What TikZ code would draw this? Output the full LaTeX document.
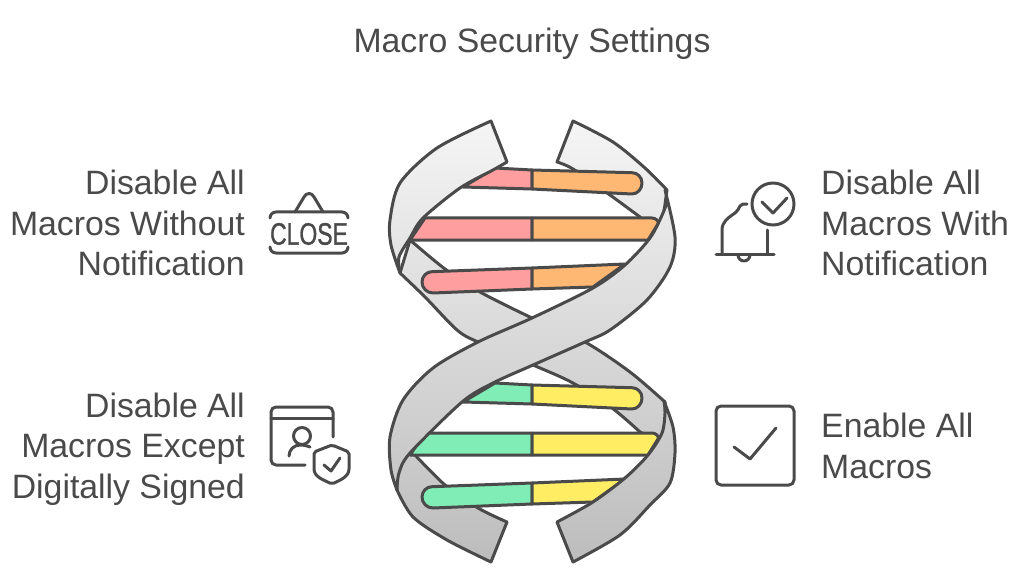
\documentclass[tikz,border=0pt]{standalone}
\usepackage{fontspec}
\setmainfont{Liberation Sans}
\newfontfamily\closefont[FakeBold=1.2]{Liberation Sans}
\definecolor{inkgray}{HTML}{4A4A4A}
\definecolor{rungred}{HTML}{FF9E9E}
\definecolor{rungorange}{HTML}{FFB774}
\definecolor{runggreen}{HTML}{80ECB6}
\definecolor{rungyellow}{HTML}{FFEE63}
\tikzset{
  ribbonline/.style={draw=inkgray,line width=3pt,line join=round},
  iconline/.style={draw=inkgray,line width=3pt,line cap=round,line join=round},
  labeltext/.style={text=inkgray,font=\fontsize{33.8}{40.5}\selectfont,inner sep=0pt},
}
% one band of the helix, shaded over the height of the whole helix
\newcommand{\ribbonpath}[1]{
  \begin{scope}
    \clip #1;
    \fill[top color=white!96!black,middle color=white!91!black,bottom color=white!74!black](380,121)rectangle(690,562);
  \end{scope}
  \draw[ribbonline] #1;
}
\begin{document}
\begin{tikzpicture}[x=1pt,y=-1pt]
\useasboundingbox(0,0)rectangle(1024,585);
\node[labeltext](titlelabel)at(532,43.5){Macro Security Settings};
% back bands
\ribbonpath{plot[smooth]coordinates{(573,121)(613,142)(645,168)(667,190)}--(660,240)--plot[smooth]coordinates{(640,217)(610,195)(573,169)(557,162)}--cycle}
\ribbonpath{plot[smooth]coordinates{(410,240)(445,269)(480,292)(532,318)(585,342)(630,372)(665,402)}--(668,445)--plot[smooth]coordinates{(640,432)(612,408)(573,383)(533,365)(478,342)(457,330)(425,297)(400,273)}--cycle}
\ribbonpath{plot[smooth]coordinates{(491,562)(447,540)(413,517)(397,490)}--(395,445)--plot[smooth]coordinates{(415,455)(445,485)(478,508)(507,522)}--cycle}
% rungs
\foreach \rungy/\leftcol/\rightcol in {0/rungred/rungorange,215/runggreen/rungyellow}{
\begin{scope}[shift={(0,\rungy)}]
\draw[ribbonline,fill=\leftcol](532,170)--(495,168)--(463,187)--(532,189)--cycle;
\draw[ribbonline,fill=\rightcol](532,170)--(632,172.7)to[out=0,in=90](642,183)to[out=-90,in=0](632,194)--(532,189)--cycle;
\draw[ribbonline,fill=\leftcol](532,218)--(425,218)--(410,240)--(532,240)--cycle;
\draw[ribbonline,fill=\rightcol](532,218)--(652,218)to[out=0,in=60](658,224)--(648,240)--(532,240)--cycle;
\draw[ribbonline,fill=\leftcol](532,268)--(432,271.7)to[out=180,in=90](422,282)to[out=-90,in=180](433,293)--(532,289)--cycle;
\draw[ribbonline,fill=\rightcol](532,268)--(625,264)--(593,287)--(532,289)--cycle;
\end{scope}
}
% front bands
\ribbonpath{plot[smooth]coordinates{(491,121)(437,148)(400,183)(390,220)(391,245)(400,273)}--plot[smooth]coordinates{(400,273)(399,257)(410,238)(423,218)(460,188)(493,170)(507,162)}--cycle}
\ribbonpath{plot[smooth]coordinates{(665,190)(667,200)(663,213)(650,238)(625,265)(593,288)(532,318)(478,342)(433,368)(403,400)(390,437)(391,470)(397,490)}--plot[smooth]coordinates{(397,490)(399,473)(410,453)(462,402)(493,383)(533,365)(585,342)(610,330)(647,300)(670,267)(675,237)(665,190)}--cycle}
\ribbonpath{plot[smooth]coordinates{(664,401)(673,427)(675,453)(670,483)(650,505)(620,535)(573,562)}--(557,522)--plot[smooth]coordinates{(557,522)(593,502)(625,478)(648,455)(662,433)(665,413)(664,401)}--cycle}
% left labels
\node[labeltext,align=right,anchor=east](closedlabel)at(245,223){Disable All\\Macros Without\\Notification};
\node[labeltext,align=right,anchor=east](signedlabel)at(245,449){Disable All\\Macros Except\\Digitally Signed};
% right labels
\node[labeltext,align=left,anchor=west](notifylabel)at(821,223){Disable All\\Macros With\\Notification};
\node[labeltext,align=left,anchor=west](enablelabel)at(821,446){Enable All\\Macros};
% close sign
\draw[iconline,rounded corners=6pt](270,218)--(270,212)--(348,212)--(348,218);
\draw[iconline,rounded corners=6pt](270,247)--(270,253)--(348,253)--(348,247);
\draw[iconline](295,212)--(304,197)to[out=60,in=180](309,193.5)to[out=0,in=120](314,197)--(323,212);
\node[text=inkgray,inner sep=0pt,font=\closefont\fontsize{31}{31}\selectfont,xscale=.74](closeword)at(309,234){CLOSE};
% signed profile
\draw[iconline,rounded corners=5pt](305,465)--(271,465)--(271,407)--(333,407)--(333,437);
\draw[iconline](271,418)--(333,418);
\draw[iconline](302,436)circle(8.5);
\draw[iconline](289,456)to[out=90,in=180](300,445)to[out=0,in=160](310,447);
\draw[iconline,rounded corners=2pt](332,445)--(314,452)--(314,467)to[out=-90,in=155](332,484)to[out=25,in=-90](349,467)--(349,452)--cycle;
\draw[iconline](324,465)--(331,471)--(340,458);
% bell with tick
\draw[iconline](773,204)circle(21);
\draw[iconline](762,202)--(773,213)--(787,198);
\draw[iconline](716,254)--(774,254);
\draw[iconline](722,254)--(722,230)to[out=90,in=-145](735,213)to[out=35,in=-120](740,206)to[out=60,in=180](747,204);
\draw[iconline](767,230)--(767,254);
\draw[iconline](738,255)to[out=-90,in=180](744,261)to[out=0,in=-90](750,255);
% tick box
\draw[iconline,rounded corners=5pt](716,406)rectangle(794,485);
\draw[iconline](734,447)--(750,459)--(776,428);
\end{tikzpicture}
\end{document}
